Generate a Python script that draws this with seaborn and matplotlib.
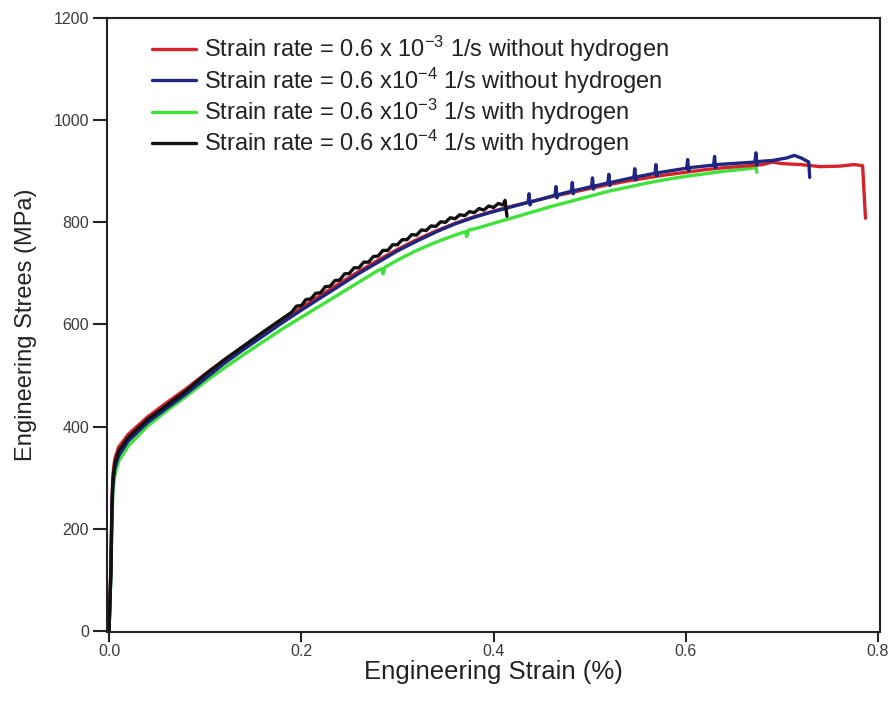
import matplotlib
matplotlib.use("Agg")
import matplotlib.pyplot as plt
from matplotlib.lines import Line2D
import seaborn as sns
import pandas as pd

# ---------------- data ----------------
red_strain = [0.0, 0.002, 0.003, 0.004, 0.006, 0.01, 0.02, 0.04, 0.06, 0.08,
              0.10, 0.12, 0.14, 0.16, 0.18, 0.20, 0.22, 0.24, 0.26, 0.28,
              0.30, 0.32, 0.34, 0.36, 0.38, 0.40, 0.42,
              0.44, 0.46, 0.48, 0.50, 0.52, 0.54, 0.56, 0.58, 0.60, 0.62, 0.64, 0.66, 0.68,
              0.69, 0.70, 0.72, 0.74, 0.76, 0.775, 0.784, 0.787]
red_stress = [0, 130, 250, 305, 337, 360, 385, 419, 447, 474,
              503, 531, 557, 583, 608, 633, 657, 681, 704, 726,
              747, 766, 783, 798, 811, 822, 832,
              841, 850, 858, 866, 874, 881, 887, 893, 898, 903, 907, 910, 913,
              918, 915, 913, 909, 910, 913, 911, 808]

blue_strain = [0.0, 0.002, 0.003, 0.004, 0.006, 0.01, 0.02, 0.04, 0.06, 0.08,
               0.10, 0.12, 0.14, 0.16, 0.18, 0.20, 0.22, 0.24, 0.26, 0.28,
               0.30, 0.32, 0.34, 0.36, 0.38, 0.40, 0.42,
               0.436, 0.437, 0.438, 0.439,
               0.464, 0.465, 0.466, 0.467,
               0.481, 0.482, 0.483, 0.484,
               0.502, 0.503, 0.504, 0.505,
               0.519, 0.520, 0.521, 0.522,
               0.546, 0.547, 0.548, 0.549,
               0.568, 0.569, 0.570, 0.571,
               0.601, 0.602, 0.603, 0.604,
               0.629, 0.630, 0.631, 0.632,
               0.672, 0.673, 0.674, 0.675,
               0.69, 0.705, 0.713, 0.72, 0.728, 0.729]
blue_stress = [0, 118, 235, 288, 318, 343, 372, 408, 436, 464,
               494, 524, 551, 577, 603, 628, 652, 676, 700, 722,
               744, 763, 781, 797, 810, 821, 831,
               839, 856, 834, 840,
               853, 870, 848, 854,
               861, 878, 856, 862,
               870, 887, 865, 871,
               877, 894, 872, 878,
               888, 905, 883, 889,
               896, 913, 891, 897,
               906, 923, 901, 907,
               912, 929, 907, 913,
               918, 936, 912, 919,
               921, 926, 931, 926, 918, 888]

green_strain = [0.0, 0.002, 0.003, 0.004, 0.006, 0.01, 0.02, 0.04, 0.06, 0.08,
                0.10, 0.12, 0.14, 0.16, 0.18, 0.20, 0.22, 0.24, 0.26, 0.28,
                0.284, 0.285, 0.287, 0.30, 0.32, 0.34, 0.36, 0.371, 0.372, 0.374,
                0.38, 0.40, 0.42, 0.44, 0.46, 0.48, 0.50, 0.52, 0.54, 0.56,
                0.58, 0.60, 0.62, 0.64, 0.66, 0.673, 0.674]
green_stress = [0, 108, 215, 270, 305, 332, 362, 401, 431, 459,
                488, 515, 541, 566, 591, 614, 637, 660, 683, 706,
                709, 699, 712, 726, 745, 761, 775, 782, 772, 785,
                787, 798, 809, 820, 831, 841, 851, 861, 869, 877,
                884, 890, 895, 900, 904, 907, 898]

black_strain = [0.0, 0.002, 0.003, 0.004, 0.006, 0.01, 0.02, 0.04, 0.06, 0.08,
                0.10, 0.12, 0.14, 0.16, 0.18,
                0.19, 0.195, 0.20, 0.205, 0.21, 0.215, 0.22, 0.225, 0.23, 0.235,
                0.24, 0.245, 0.25, 0.255, 0.26, 0.265, 0.27, 0.275, 0.28, 0.285,
                0.29, 0.295, 0.30, 0.305, 0.31, 0.315, 0.32, 0.325, 0.33, 0.335,
                0.34, 0.345, 0.35, 0.355, 0.36, 0.365, 0.37, 0.375, 0.38, 0.385,
                0.39, 0.395, 0.40, 0.405, 0.41, 0.412, 0.414]
black_stress = [0, 120, 240, 295, 328, 352, 379, 414, 442, 470,
                502, 531, 558, 585, 611,
                624, 636, 637, 649, 650, 661, 662, 674, 675, 686,
                687, 699, 700, 711, 711, 722, 722, 733, 734, 745,
                745, 756, 756, 766, 766, 776, 775, 785, 784, 793,
                792, 801, 800, 809, 807, 815, 813, 821, 819, 827,
                824, 832, 829, 837, 834, 843, 812]

labels = [r"Strain rate = 0.6 x 10$^{-3}$ 1/s without hydrogen",
          r"Strain rate = 0.6 x10$^{-4}$ 1/s without hydrogen",
          r"Strain rate = 0.6 x10$^{-3}$ 1/s with hydrogen",
          r"Strain rate = 0.6 x10$^{-4}$ 1/s with hydrogen"]
colors = ["#d4232b", "#1d2680", "#3ee33a", "#111111"]

x_ticks = [0.0, 0.2, 0.4, 0.6, 0.8]
y_ticks = [0, 200, 400, 600, 800, 1000, 1200]

# ---------------- figure ----------------
sns.set_theme(style="ticks")
plt.rcParams["font.family"] = ["Liberation Sans", "DejaVu Sans"]
plt.rcParams["mathtext.fontset"] = "custom"
plt.rcParams["mathtext.rm"] = "Liberation Sans"
plt.rcParams["mathtext.default"] = "regular"

fig = plt.figure(figsize=(8.96, 7.06), dpi=100)
ax = fig.add_axes([107 / 896, 74 / 706, 773 / 896, 614 / 706])

series = [
    (red_strain, red_stress, colors[0]),
    (blue_strain, blue_stress, colors[1]),
    (green_strain, green_stress, colors[2]),
    (black_strain, black_stress, colors[3]),
]
draw_order = [2, 0, 1, 3]
for i in draw_order:
    xs, ys, c = series[i]
    df = pd.DataFrame({"strain": xs, "stress": ys})
    sns.lineplot(data=df, x="strain", y="stress", sort=False, estimator=None,
                 color=c, linewidth=2.4, ax=ax, legend=False)

ax.set_xlim(-0.0021, 0.8021)
ax.set_ylim(-2, 1200)
ax.set_xticks(x_ticks)
ax.set_xticklabels([f"{v:.1f}" for v in x_ticks])
ax.set_yticks(y_ticks)
ax.set_yticklabels([str(v) for v in y_ticks])
ax.tick_params(direction="out", width=1.5, labelsize=11.5,
               labelcolor="#3a3a3a", color="#222222")
ax.tick_params(axis="x", length=7, pad=1.5)
ax.tick_params(axis="y", length=10, pad=3)
for sp in ax.spines.values():
    sp.set_linewidth(1.5)
    sp.set_color("#222222")

ax.set_xlabel("Engineering Strain (%)", fontsize=18.5, color="#222222", labelpad=1)
ax.set_ylabel("Engineering Strees (MPa)", fontsize=17, color="#222222", labelpad=12)

handles = [Line2D([0], [0], color=c, linewidth=2.4) for c in colors]
ax.legend(handles, labels, loc="upper left", bbox_to_anchor=(0.058, 0.974),
          frameon=False, fontsize=17, handlelength=1.85, handletextpad=0.35,
          labelspacing=0.05, borderpad=0, borderaxespad=0, labelcolor="#222222")

fig.savefig("out.png", dpi=100)
